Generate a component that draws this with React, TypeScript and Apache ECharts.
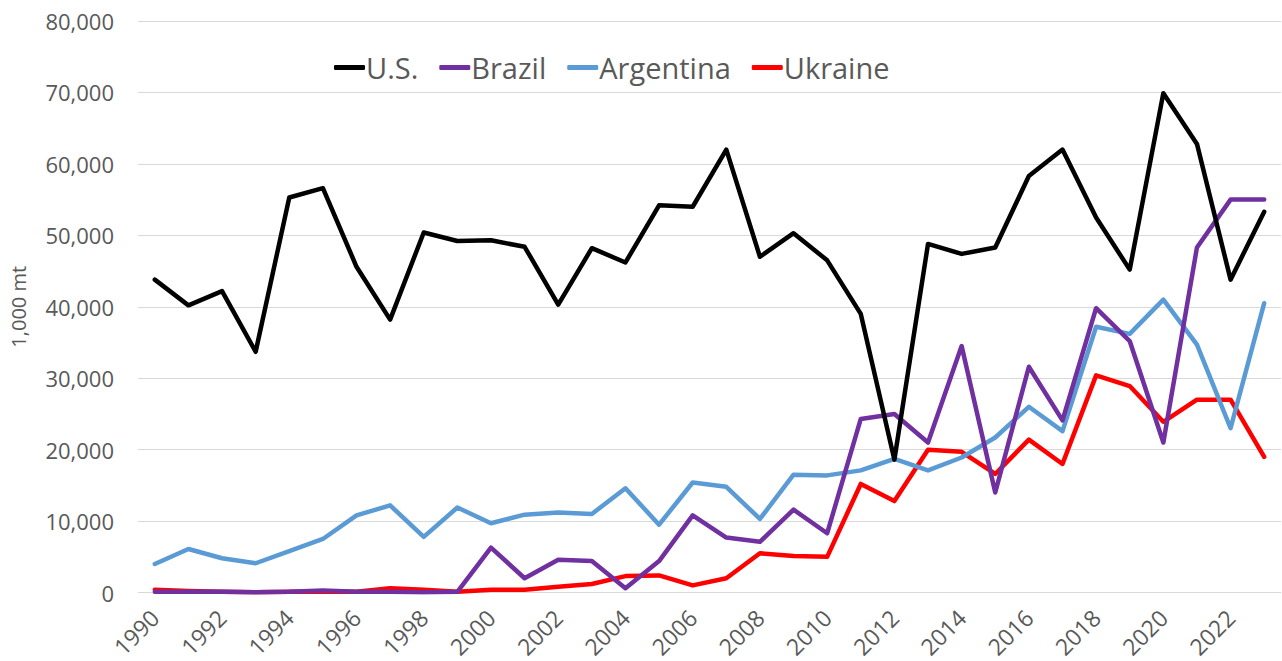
import React, { useEffect, useRef } from "react";
import * as echarts from "echarts";

const years = [
  "1990","1991","1992","1993","1994","1995","1996","1997","1998","1999",
  "2000","2001","2002","2003","2004","2005","2006","2007","2008","2009",
  "2010","2011","2012","2013","2014","2015","2016","2017","2018","2019",
  "2020","2021","2022","2023",
];

const usValues = [
  43800, 40200, 42200, 33700, 55300, 56600, 45600, 38200, 50400, 49200,
  49300, 48400, 40300, 48200, 46200, 54200, 54000, 62000, 47000, 50300,
  46500, 39000, 18600, 48800, 47400, 48300, 58300, 62000, 52500, 45200,
  69900, 62800, 43800, 53300,
];

const brazilValues = [
  100, 100, 100, 50, 100, 300, 100, 100, 50, 100,
  6300, 2000, 4600, 4400, 600, 4400, 10800, 7700, 7100, 11600,
  8300, 24300, 25000, 21000, 34500, 14000, 31600, 24100, 39800, 35200,
  21000, 48300, 55000, 55000,
];

const argentinaValues = [
  4000, 6100, 4800, 4100, 5800, 7500, 10800, 12200, 7800, 11900,
  9700, 10900, 11200, 11000, 14600, 9500, 15400, 14800, 10300, 16500,
  16400, 17100, 18700, 17100, 18900, 21700, 26000, 22600, 37200, 36200,
  41000, 34700, 23000, 40500,
];

const ukraineValues = [
  400, 200, 100, 50, 100, 100, 100, 600, 400, 100,
  400, 400, 800, 1200, 2300, 2400, 1000, 2000, 5500, 5100,
  5000, 15200, 12800, 20000, 19700, 16600, 21400, 18000, 30400, 28900,
  23900, 27000, 27000, 19000,
];

const seriesNames = ["U.S.", "Brazil", "Argentina", "Ukraine"];
const seriesColors = ["#000000", "#7030A0", "#5B9BD5", "#FF0000"];

export default function App() {
  const ref = useRef<HTMLDivElement>(null);

  useEffect(() => {
    if (!ref.current) return;
    const chart = echarts.init(ref.current, undefined, { renderer: "svg" });
    const allData = [usValues, brazilValues, argentinaValues, ukraineValues];
    const font = "'Open Sans', 'Noto Sans', sans-serif";
    chart.setOption({
      animation: false,
      backgroundColor: "#ffffff",
      textStyle: { fontFamily: font },
      legend: {
        left: 329,
        top: 48,
        itemWidth: 31,
        itemHeight: 5,
        itemGap: 21,
        icon: "roundRect",
        textStyle: { fontSize: 29, color: "#595959", fontFamily: font, padding: [0, 0, 0, -4] },
        data: seriesNames,
      },
      grid: { left: 132, right: 1, top: 21, bottom: 67, containLabel: false },
      xAxis: {
        type: "category",
        data: years,
        boundaryGap: true,
        axisLine: { show: false },
        axisTick: { show: false },
        axisLabel: {
          interval: 1,
          rotate: 45,
          fontSize: 23,
          color: "#595959",
          margin: 21,
          fontFamily: font,
        },
        splitLine: { show: false },
      },
      yAxis: {
        type: "value",
        min: 0,
        max: 80000,
        interval: 10000,
        name: "1,000 mt",
        nameLocation: "middle",
        nameGap: 110,
        nameRotate: 90,
        nameTextStyle: { fontSize: 20, color: "#595959", fontFamily: font },
        axisLine: { show: false },
        axisTick: { show: false },
        axisLabel: {
          fontSize: 22,
          color: "#595959",
          margin: 24,
          fontFamily: font,
          formatter: (v: number) => v.toLocaleString("en-US"),
        },
        splitLine: { show: true, lineStyle: { color: "#d9d9d9", width: 1 } },
      },
      series: seriesNames.map((name, i) => ({
        name,
        type: "line",
        data: allData[i],
        showSymbol: false,
        symbol: "none",
        lineStyle: { width: 4.5, color: seriesColors[i], join: "round", cap: "round" },
        itemStyle: { color: seriesColors[i] },
        z: 10 - i,
      })),
    });
    return () => chart.dispose();
  }, []);

  return (
    <div
      ref={ref}
      style={{ position: "fixed", left: 0, top: 0, width: 1282, height: 661 }}
    />
  );
}
